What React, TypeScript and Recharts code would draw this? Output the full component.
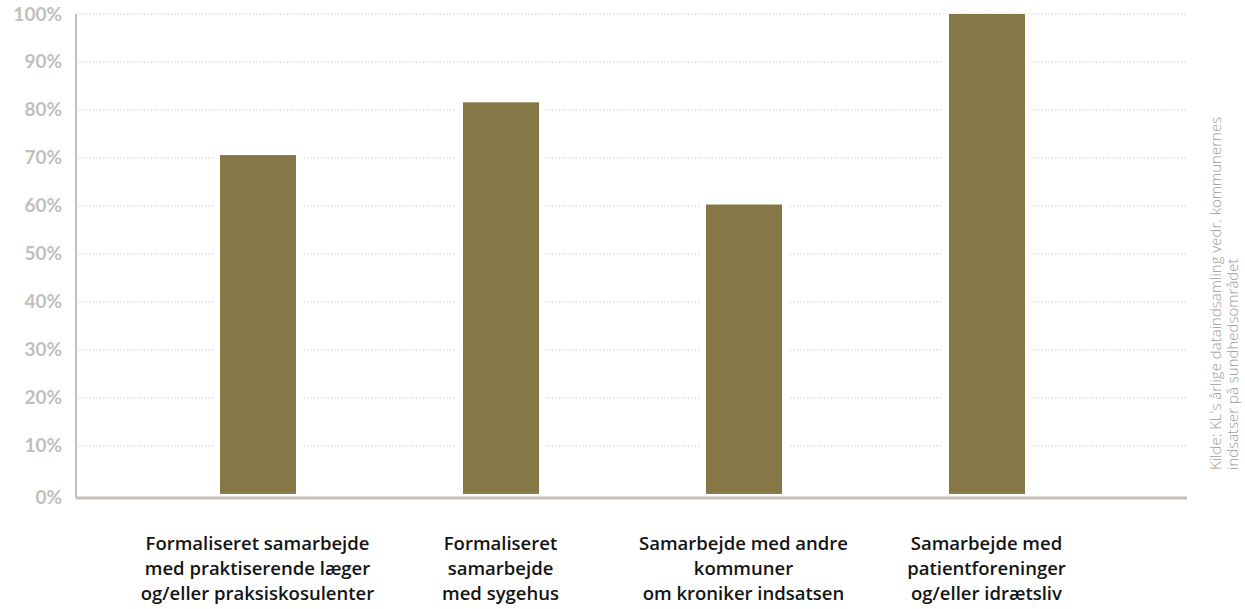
import React from "react";
import { BarChart, Bar, XAxis, YAxis, CartesianGrid } from "recharts";

const categories: string[][] = [
  ["Formaliseret samarbejde", "med praktiserende læger", "og/eller praksiskosulenter"],
  ["Formaliseret", "samarbejde", "med sygehus"],
  ["Samarbejde med andre", "kommuner", "om kroniker indsatsen"],
  ["Samarbejde med", "patientforeninger", "og/eller idrætsliv"],
];
const shares = [70.6, 81.6, 60.3, 100];
const yTicks = [0, 10, 20, 30, 40, 50, 60, 70, 80, 90, 100];
const sourceLines = [
  "Kilde: KL's årlige dataindsamling vedr. kommunernes",
  "indsatser på sundhedsområdet",
];

const data = categories.map((lines, i) => ({ key: String(i), lines, value: shares[i] }));

const BAR = "#857846";
const AXIS = "#c4bfba";
const TICK = "#c2beba";

// white halo behind each bar so the dotted grid stops short of it
function HaloBar(props: any) {
  const { x, y, width, height } = props;
  return (
    <g>
      <rect x={x - 6} y={y} width={width + 12} height={height} fill="#fff" />
      <rect x={x} y={y} width={width} height={height} fill={BAR} />
    </g>
  );
}

function CategoryTick(props: any) {
  const { x, y, payload } = props;
  const lines: string[] = categories[Number(payload.value)] ?? [];
  return (
    <text
      x={x}
      y={y}
      textAnchor="middle"
      fill="#141414"
      fontFamily="'Open Sans', sans-serif"
      fontWeight={600}
      fontSize={18.5}
    >
      {lines.map((l, i) => (
        <tspan key={i} x={x} y={y + 44 + i * 25}>
          {l}
        </tspan>
      ))}
    </text>
  );
}

function PercentTick(props: any) {
  const { x, y, payload } = props;
  return (
    <text
      x={x}
      y={y + (payload.value === 0 ? 4 : 0)}
      dy={6.5}
      textAnchor="end"
      fill={TICK}
      fontFamily="Lato, sans-serif"
      fontWeight={700}
      fontSize={19}
    >
      {payload.value}%
    </text>
  );
}

export default function App() {
  return (
    <div style={{ position: "absolute", left: 0, top: 0, width: 1245, height: 609, background: "#fff" }}>
      <BarChart
        width={1245}
        height={609}
        data={data}
        margin={{ top: 14, right: 58, bottom: 0, left: 0 }}
        barCategoryGap={0}
      >
        <CartesianGrid
          vertical={false}
          stroke={TICK}
          strokeDasharray="1.2 2.2"
          horizontalValues={yTicks.filter((t) => t > 0)}
        />
        <YAxis
          width={76}
          domain={[-0.85, 100]}
          ticks={yTicks}
          interval={0}
          tickLine={false}
          tickSize={0}
          tickMargin={14}
          axisLine={{ stroke: AXIS, strokeWidth: 2 }}
          tick={<PercentTick />}
        />
        <XAxis
          dataKey="key"
          height={111}
          padding={{ left: 60, right: 79 }}
          tickLine={false}
          axisLine={{ stroke: AXIS, strokeWidth: 3 }}
          tick={<CategoryTick />}
          interval={0}
        />
        <Bar dataKey="value" barSize={76} shape={<HaloBar />} isAnimationActive={false} />
      </BarChart>
      <svg
        width={60}
        height={609}
        style={{ position: "absolute", left: 1190, top: 0 }}
      >
        {sourceLines.map((s, i) => (
          <text
            key={i}
            transform={`translate(${31 + i * 17}, 470) rotate(-90)`}
            fill="#9a9a9a"
            fontFamily="'Open Sans', sans-serif"
            fontWeight={300}
            fontSize={15}
          >
            {s}
          </text>
        ))}
      </svg>
    </div>
  );
}
